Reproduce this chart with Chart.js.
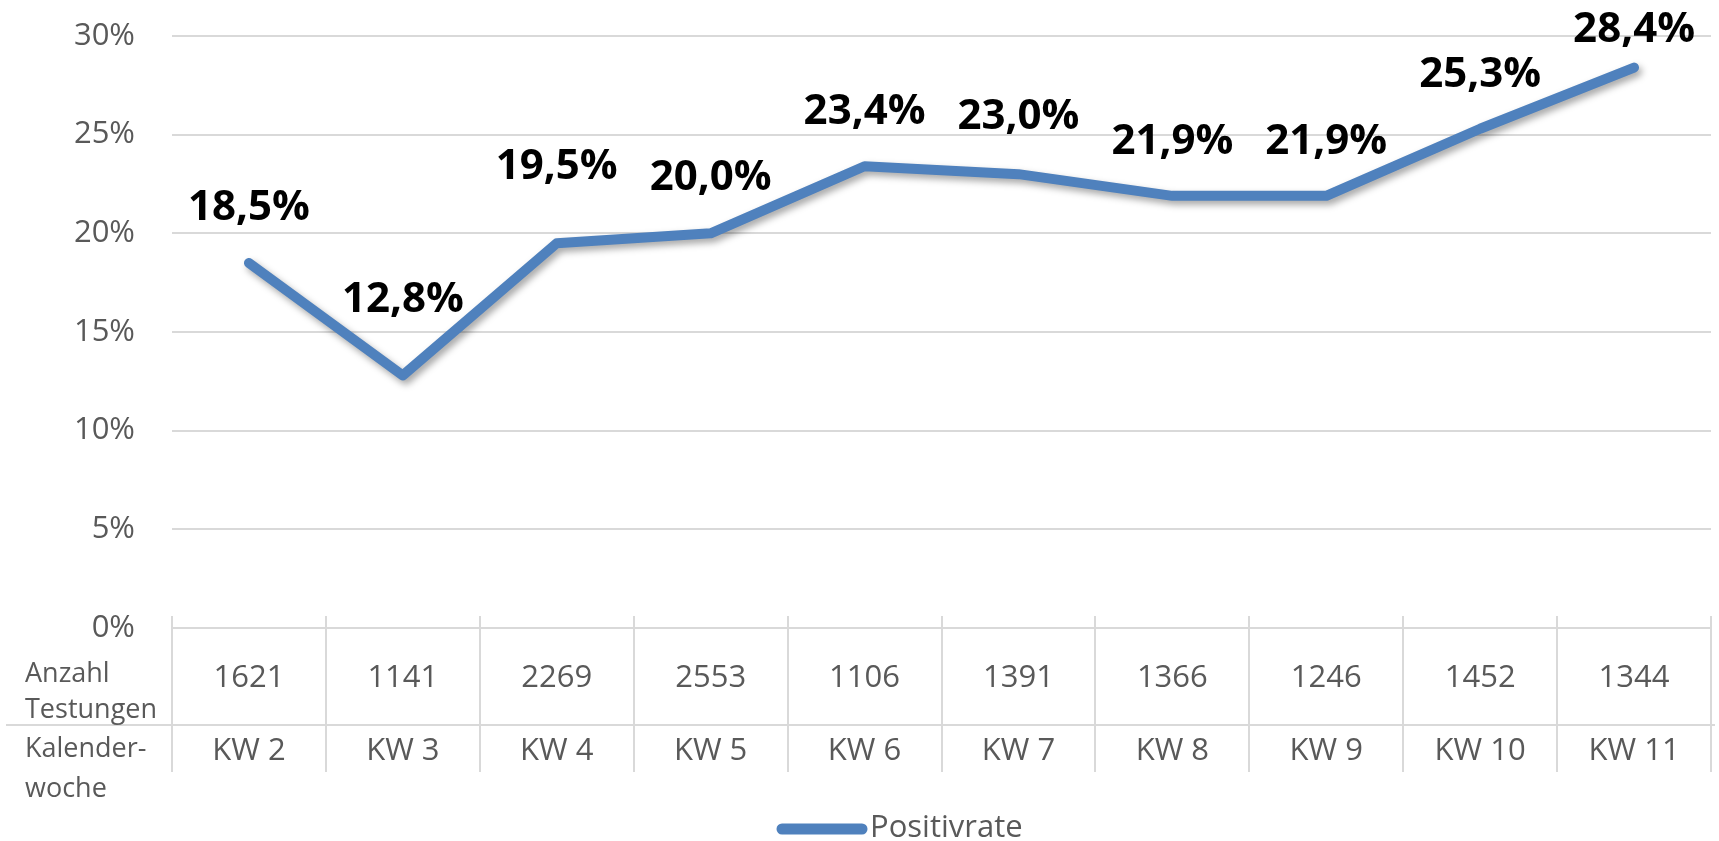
<!DOCTYPE html>
<html>
<head>
<meta charset="utf-8">
<script src="https://cdn.jsdelivr.net/npm/chart.js@4.4.1/dist/chart.umd.min.js"></script>
<style>
body { margin: 0; background: #fff; }
#wrap { width: 1719px; height: 841px; }
</style>
</head>
<body>
<div id="wrap"><canvas id="chart" width="1719" height="841"></canvas></div>
<script>
// Data
const weeks = ['KW 2', 'KW 3', 'KW 4', 'KW 5', 'KW 6', 'KW 7', 'KW 8', 'KW 9', 'KW 10', 'KW 11'];
const positivrate = [18.5, 12.8, 19.5, 20.0, 23.4, 23.0, 21.9, 21.9, 25.3, 28.4];
const testungen = [1621, 1141, 2269, 2553, 1106, 1391, 1366, 1246, 1452, 1344];
const yMin = 0, yMax = 30, yStep = 5;
const rowHeaders = [['Anzahl', 'Testungen'], ['Kalender-', 'woche']];
const seriesName = 'Positivrate';

const FONT = '"Open Sans", "Noto Sans", sans-serif';
const GREY = '#595959';
const GRID = '#d9d9d9';
const BLUE = '#4f81bd';

// shadow under the line, like the Excel original
const lineShadow = {
    id: 'lineShadow',
    beforeDatasetsDraw(chart) {
        const c = chart.ctx;
        c.save();
        c.shadowColor = 'rgba(0,0,0,0.35)';
        c.shadowBlur = 7;
        c.shadowOffsetX = 3;
        c.shadowOffsetY = 4;
    },
    afterDatasetsDraw(chart) {
        chart.ctx.restore();
    }
};

// bold value labels above each point
const valueLabels = {
    id: 'valueLabels',
    afterDatasetsDraw(chart, args, opts) {
        const c = chart.ctx;
        const meta = chart.getDatasetMeta(0);
        c.save();
        c.font = 'bold 42px ' + FONT;
        c.fillStyle = '#000';
        c.textAlign = 'center';
        c.textBaseline = 'alphabetic';
        meta.data.forEach((pt, i) => {
            const v = chart.data.datasets[0].data[i];
            const txt = v.toFixed(1).replace('.', ',') + '%';
            c.fillText(txt, pt.x, pt.y - opts.offsets[i]);
        });
        c.restore();
    }
};

// data table under the plot + legend
const dataTable = {
    id: 'dataTable',
    afterDraw(chart) {
        const c = chart.ctx;
        const area = chart.chartArea;
        const x = chart.scales.x;
        const n = weeks.length;
        const w = (area.right - area.left) / n;
        const rowSplit = 725, tableBottom = 772;

        c.save();
        c.strokeStyle = GRID;
        c.lineWidth = 2;
        c.beginPath();
        for (let i = 0; i <= n; i++) {
            const bx = Math.round(area.left + i * w);
            c.moveTo(bx, area.bottom - 12);
            c.lineTo(bx, tableBottom);
        }
        c.moveTo(6, rowSplit);
        c.lineTo(area.right + 4, rowSplit);
        c.stroke();

        c.fillStyle = GREY;
        c.font = '31px ' + FONT;
        c.textAlign = 'center';
        c.textBaseline = 'alphabetic';
        weeks.forEach((wk, i) => {
            const cx = x.getPixelForValue(i);
            c.fillText(String(testungen[i]), cx, 687);
            c.fillText(wk, cx, 760);
        });

        c.textAlign = 'left';
        c.font = '27px ' + FONT;
        c.fillText(rowHeaders[0][0], 25, 682);
        c.fillText(rowHeaders[0][1], 25, 718);
        c.fillText(rowHeaders[1][0], 25, 757);
        c.fillText(rowHeaders[1][1], 25, 797);

        // legend
        c.strokeStyle = BLUE;
        c.lineWidth = 11;
        c.lineCap = 'round';
        c.beginPath();
        c.moveTo(782, 829);
        c.lineTo(862, 829);
        c.stroke();
        c.font = '31px ' + FONT;
        c.fillText(seriesName, 870, 837);
        c.restore();
    }
};

const ctx = document.getElementById('chart').getContext('2d');
const chart = new Chart(ctx, {
    type: 'line',
    data: {
        labels: weeks,
        datasets: [{
            label: seriesName,
            data: positivrate,
            borderColor: BLUE,
            borderWidth: 10,
            borderCapStyle: 'round',
            borderJoinStyle: 'round',
            pointRadius: 0,
            tension: 0,
            fill: false
        }]
    },
    options: {
        responsive: false,
        animation: false,
        devicePixelRatio: 1,
        layout: { padding: { top: 36, bottom: 213, left: 0, right: 8 } },
        plugins: {
            legend: { display: false },
            tooltip: { enabled: false },
            valueLabels: { offsets: [43, 63, 64, 43, 42, 45, 42, 42, 42, 26] }
        },
        scales: {
            x: {
                type: 'category',
                display: false,
                offset: true
            },
            y: {
                min: yMin,
                max: yMax,
                afterFit(scale) { scale.width = 172; },
                ticks: {
                    stepSize: yStep,
                    padding: 0,
                    color: GREY,
                    font: { family: FONT, size: 31 },
                    callback: v => v + '%'
                },
                // invisible tick marks keep the labels away from the plot
                grid: { color: GRID, lineWidth: 2, drawTicks: true, tickLength: 37, tickColor: 'rgba(0,0,0,0)' },
                border: { display: false }
            }
        }
    },
    plugins: [lineShadow, valueLabels, dataTable]
});
</script>
</body>
</html>
